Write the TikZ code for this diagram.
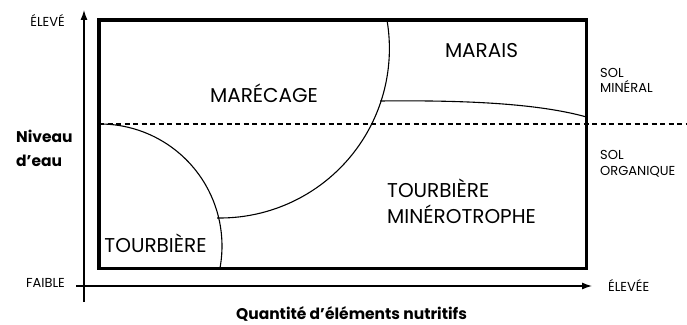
\documentclass[tikz,border=0pt]{standalone}
\usepackage{fontspec}
\setmainfont{Poppins}
\usetikzlibrary{arrows.meta, positioning}

\begin{document}
\begin{tikzpicture}[
      x=1pt, y=1pt,
      frame/.style={line width=3.4pt},
      axis/.style={-{Latex[length=10pt,width=7pt]}, line width=1.2pt},
      bound/.style={line width=1.1pt},
      water/.style={line width=1.1pt, dash pattern=on 5pt off 3.5pt},
      zone_text/.style={font=\fontsize{20}{24}\selectfont, inner sep=0pt},
      small_text/.style={font=\fontsize{13}{15}\selectfont, inner sep=0pt, align=left},
      axis_title/.style={font=\fontsize{15.5}{24}\selectfont\bfseries, inner sep=0pt, align=left}
  ]
      \useasboundingbox (0,0) rectangle (687,324);

      % axes
      \coordinate (yfoot) at (84,22);
      \coordinate (ytop) at (84,314);
      \coordinate (xfoot) at (76,38);
      \coordinate (xtip) at (592,38);
      \draw[axis] (yfoot) -- (ytop);
      \draw[axis] (xfoot) -- (xtip);

      % zone boundaries, kept inside the frame
      \begin{scope}
          \clip (99,55.5) rectangle (586.5,304);
          \draw[bound] (100,200) arc[start angle=90, end angle=-12, radius=122];
          \draw[bound] (220,275.4) ++(-91:169.4) arc[start angle=-91, end angle=12, radius=169.4];
          \coordinate (mA) at (380,223);
          \coordinate (mB) at (586.5,207);
          \draw[bound] (mA) .. controls (470,224) and (540,220) .. (mB);
      \end{scope}

      % water level
      \coordinate (wA) at (99,200);
      \coordinate (wB) at (687,200);
      \draw[water] (wA) -- (wB);

      % frame
      \draw[frame] (99,55.5) rectangle (586.5,304);

      % zones
      \node[zone_text, anchor=base] (marecage) at (264,221) {MARÉCAGE};
      \node[zone_text, anchor=base] (marais) at (481.5,266) {MARAIS};
      \node[zone_text, anchor=base] (tourb) at (155.5,72) {TOURBIÈRE};
      \node[zone_text, anchor=base west] (minA) at (387,126) {TOURBIÈRE};
      \node[zone_text, anchor=base west] (minB) at (387,101) {MINÉROTROPHE};

      % soils
      \node[small_text, anchor=base west] (solA) at (600,246) {SOL};
      \node[small_text, anchor=base west] (solB) at (600,231) {MINÉRAL};
      \node[small_text, anchor=base west] (solC) at (600,164) {SOL};
      \node[small_text, anchor=base west] (solD) at (600,148) {ORGANIQUE};

      % axis ends
      \node[small_text, anchor=base east] (high) at (65,297) {ÉLEVÉ};
      \node[small_text, anchor=base east] (low) at (65,37) {FAIBLE};
      \node[small_text, anchor=base west] (rich) at (608,33) {ÉLEVÉE};

      % axis titles
      \node[axis_title, anchor=base west] (levA) at (16,181) {Niveau};
      \node[axis_title, anchor=base west] (levB) at (16,157) {d’eau};
      \node[axis_title, anchor=base] (nutri) at (351.5,5) {Quantité d’éléments nutritifs};
  \end{tikzpicture}
\end{document}
